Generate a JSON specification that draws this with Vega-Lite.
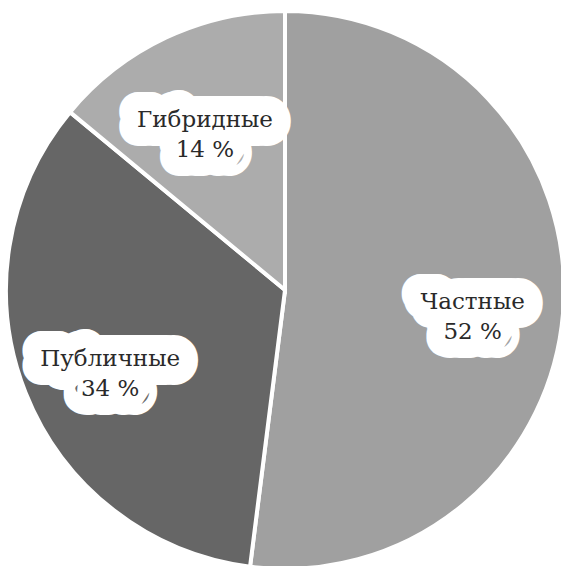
{
  "$schema": "https://vega.github.io/schema/vega-lite/v6.json",
  "width": 570,
  "height": 580,
  "autosize": {"type": "none"},
  "padding": 0,
  "background": "white",
  "config": {"view": {"stroke": null}, "text": {"font": "DejaVu Serif"}},
  "data": {
    "values": [
      {"category": "Частные", "share": 52, "label": "Частные\n52 %"},
      {"category": "Публичные", "share": 34, "label": "Публичные\n34 %"},
      {"category": "Гибридные", "share": 14, "label": "Гибридные\n14 %"}
    ]
  },
  "encoding": {
    "theta": {"field": "share", "type": "quantitative", "stack": true},
    "order": {"field": "category", "type": "nominal", "sort": "descending"}
  },
  "layer": [
    {
      "mark": {"type": "arc", "outerRadius": 279, "stroke": "white", "strokeWidth": 4},
      "encoding": {
        "color": {
          "field": "category",
          "type": "nominal",
          "scale": {"domain": ["Частные", "Публичные", "Гибридные"], "range": ["#a0a0a0", "#666666", "#acacac"]},
          "legend": null
        }
      }
    },
    {
      "mark": {"type": "text", "radius": 188, "font": "DejaVu Serif", "fontSize": 23, "lineBreak": "\n", "lineHeight": 30, "fill": "white", "stroke": "white", "strokeWidth": 38, "strokeJoin": "round", "strokeCap": "round"},
      "encoding": {"text": {"field": "label"}}
    },
    {
      "mark": {"type": "text", "radius": 188, "font": "DejaVu Serif", "fontSize": 23, "lineBreak": "\n", "lineHeight": 30, "fill": "#2a2a2a"},
      "encoding": {"text": {"field": "label"}}
    }
  ]
}
